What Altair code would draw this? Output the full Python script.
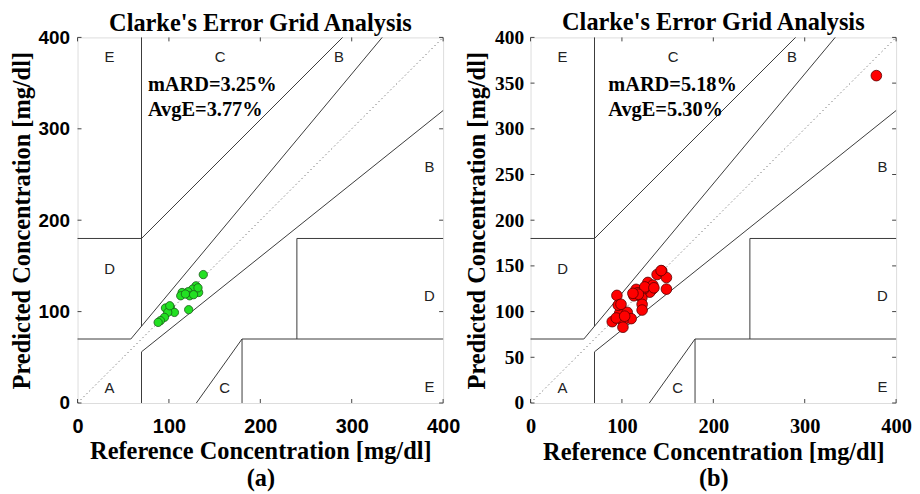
import altair as alt
import pandas as pd

# ---------------- data ----------------
# Panel (a)
ref_a = [137.6, 129.6, 132.5, 125.9, 120.9, 114.4, 112.9, 122.7, 118.0, 121.6,
         101.6, 96.2, 106.0, 98.7, 95.1, 90.7, 88.2, 100.9, 131.8, 127.0]
pred_a = [140.5, 128.2, 120.9, 124.6, 121.7, 120.9, 117.3, 117.3, 119.2, 102.1,
          104.6, 103.9, 99.1, 99.1, 93.7, 90.1, 88.2, 106.4, 126.0, 118.5]
# Panel (b)
ref_b = [138.5, 143.6, 148.7, 148.7, 142.9, 128.4, 133.0, 130.5, 124.0, 120.4,
         115.6, 113.1, 121.8, 122.1, 122.1, 94.5, 98.6, 97.5, 105.8, 110.1,
         101.1, 89.4, 101.1, 93.8, 117.4, 133.8, 125.0, 118.0, 112.0, 135.0,
         96.0, 103.0, 99.0, 378.4]
pred_b = [140.6, 144.5, 137.3, 124.6, 144.9, 131.9, 124.3, 121.3, 124.6, 121.0,
          124.3, 117.3, 115.1, 107.9, 101.7, 117.7, 104.7, 98.1, 99.2, 92.3,
          90.1, 89.0, 82.9, 93.0, 120.6, 128.9, 127.0, 119.0, 120.0, 126.0,
          107.0, 95.0, 108.0, 358.2]

stats_a = ["mARD=3.25%", "AvgE=3.77%"]
stats_b = ["mARD=5.18%", "AvgE=5.30%"]
stats_y = [348, 321]

xticks = [0, 100, 200, 300, 400]
yticks_a = [0, 100, 200, 300, 400]
yticks_b = [0, 50, 100, 150, 200, 250, 300, 350, 400]

# Clarke error grid zone boundaries
seg_x1 = [0, 175 / 3, 70, 0, 70, 70, 70, 180, 180, 240, 240, 130]
seg_y1 = [70, 70, 84, 180, 180, 0, 56, 0, 70, 70, 180, 0]
seg_x2 = [175 / 3, 400 / 1.2, 70, 70, 290, 70, 400, 180, 400, 240, 400, 180]
seg_y2 = [70, 400, 400, 180, 400, 56, 320, 70, 70, 180, 180, 70]
diag = [0, 400]

zone_text = ["E", "C", "B", "B", "D", "D", "A", "C", "E"]
zone_x = [35, 156, 286, 385, 35, 385, 35, 161, 385]
zone_y = [378, 378, 378, 258, 147, 117, 16, 16, 17]

TITLE = "Clarke's Error Grid Analysis"
XTITLE = "Reference Concentration [mg/dl]"
YTITLE = "Predicted Concentration [mg/dl]"

SERIF = "Liberation Serif"
SANS = "Liberation Sans"
W = 368
H = 368


def panel(ref, pred, fill, stroke, size, stats, stats_x, caption, tick_font,
          xlab_size, ylab_size, yticks, ylab_pad, ytitle_pad):
    sc = alt.Scale(domain=[0, 400], nice=False, zero=False)
    xaxis = alt.Axis(values=xticks, title=[XTITLE, caption], titleFont=SERIF,
                     titleFontSize=24.5, titleFontWeight="bold", titleColor="black",
                     titleLineHeight=27, titlePadding=3, labelFont=tick_font,
                     labelFontSize=xlab_size, labelFontWeight="bold",
                     labelColor="black", labelPadding=14, ticks=False,
                     domain=False, grid=False, labelFlush=False, labelOverlap=False,
                     format="d")
    yaxis = alt.Axis(values=yticks, title=YTITLE, titleFont=SERIF,
                     titleFontSize=24.5, titleFontWeight="bold", titleColor="black",
                     titlePadding=ytitle_pad, labelFont=tick_font,
                     labelFontSize=ylab_size, labelFontWeight="bold",
                     labelColor="black", labelPadding=ylab_pad,
                     ticks=False, domain=False, grid=False, labelFlush=False,
                     labelOverlap=False, format="d")

    def X(f):
        return alt.X(f, type="quantitative", scale=sc, axis=xaxis)

    def Y(f):
        return alt.Y(f, type="quantitative", scale=sc, axis=yaxis)

    segs = pd.DataFrame({"x1": seg_x1, "y1": seg_y1, "x2": seg_x2, "y2": seg_y2})
    seg_layer = alt.Chart(segs).mark_rule(color="#3a3a3a", strokeWidth=1).encode(
        x=X("x1"), y=Y("y1"), x2="x2", y2="y2")

    dd = pd.DataFrame({"x1": [diag[0]], "y1": [diag[0]], "x2": [diag[1]], "y2": [diag[1]]})
    diag_layer = alt.Chart(dd).mark_rule(color="#666666", strokeWidth=1,
                                         strokeDash=[1.2, 3]).encode(
        x=X("x1"), y=Y("y1"), x2="x2", y2="y2")

    zones = pd.DataFrame({"t": zone_text, "x": zone_x, "y": zone_y})
    zone_layer = alt.Chart(zones).mark_text(font=SANS, fontSize=15, color="#222222",
                                            align="center", baseline="middle").encode(
        x=X("x"), y=Y("y"), text="t")

    st = pd.DataFrame({"t": stats, "x": [stats_x] * len(stats), "y": stats_y})
    stats_layer = alt.Chart(st).mark_text(font=SERIF, fontSize=20.5, fontWeight="bold",
                                          color="black", align="left",
                                          baseline="middle").encode(
        x=X("x"), y=Y("y"), text="t")

    pts = pd.DataFrame({"ref": ref, "pred": pred})
    pts_layer = alt.Chart(pts).mark_circle(size=size, color=fill, opacity=1,
                                           stroke=stroke, strokeWidth=0.8).encode(
        x=X("ref"), y=Y("pred"))

    xt = pd.DataFrame({"v": xticks})
    yt = pd.DataFrame({"v": yticks})
    tick_col = "#444444"
    xt_bottom = alt.Chart(xt).mark_rule(color=tick_col).encode(
        x=X("v"), y=alt.value(H), y2=alt.value(H - 4))
    xt_top = alt.Chart(xt).mark_rule(color=tick_col).encode(
        x=X("v"), y=alt.value(0), y2=alt.value(4))
    yt_left = alt.Chart(yt).mark_rule(color=tick_col).encode(
        y=Y("v"), x=alt.value(0), x2=alt.value(4))
    yt_right = alt.Chart(yt).mark_rule(color=tick_col).encode(
        y=Y("v"), x=alt.value(W), x2=alt.value(W - 4))

    return alt.layer(
        seg_layer, diag_layer, xt_bottom, xt_top, yt_left, yt_right,
        zone_layer, stats_layer, pts_layer
    ).properties(
        width=W, height=H,
        title=alt.TitleParams(TITLE, font=SERIF, fontSize=24.5, fontWeight="bold",
                              color="black", anchor="middle", offset=-8,
                              frame="group"),
    )


pa = panel(ref_a, pred_a, "#22e022", "#1a5a1a", 70, stats_a, 77, "(a)", SANS, 20, 19,
           yticks_a, 8, 4)
pb = panel(ref_b, pred_b, "#ff0000", "#5a0000", 115, stats_b, 85, "(b)", SERIF, 20.5, 19.5,
           yticks_b, 7, 5)

chart = alt.hconcat(pa, pb, spacing=88, bounds="flush").properties(
    padding={"left": 0, "top": 0, "right": 0, "bottom": 0}
).configure_view(stroke="#444444", strokeWidth=1).configure(background="white")

chart.save("out.html", embed_options={"renderer": "svg", "actions": False})
